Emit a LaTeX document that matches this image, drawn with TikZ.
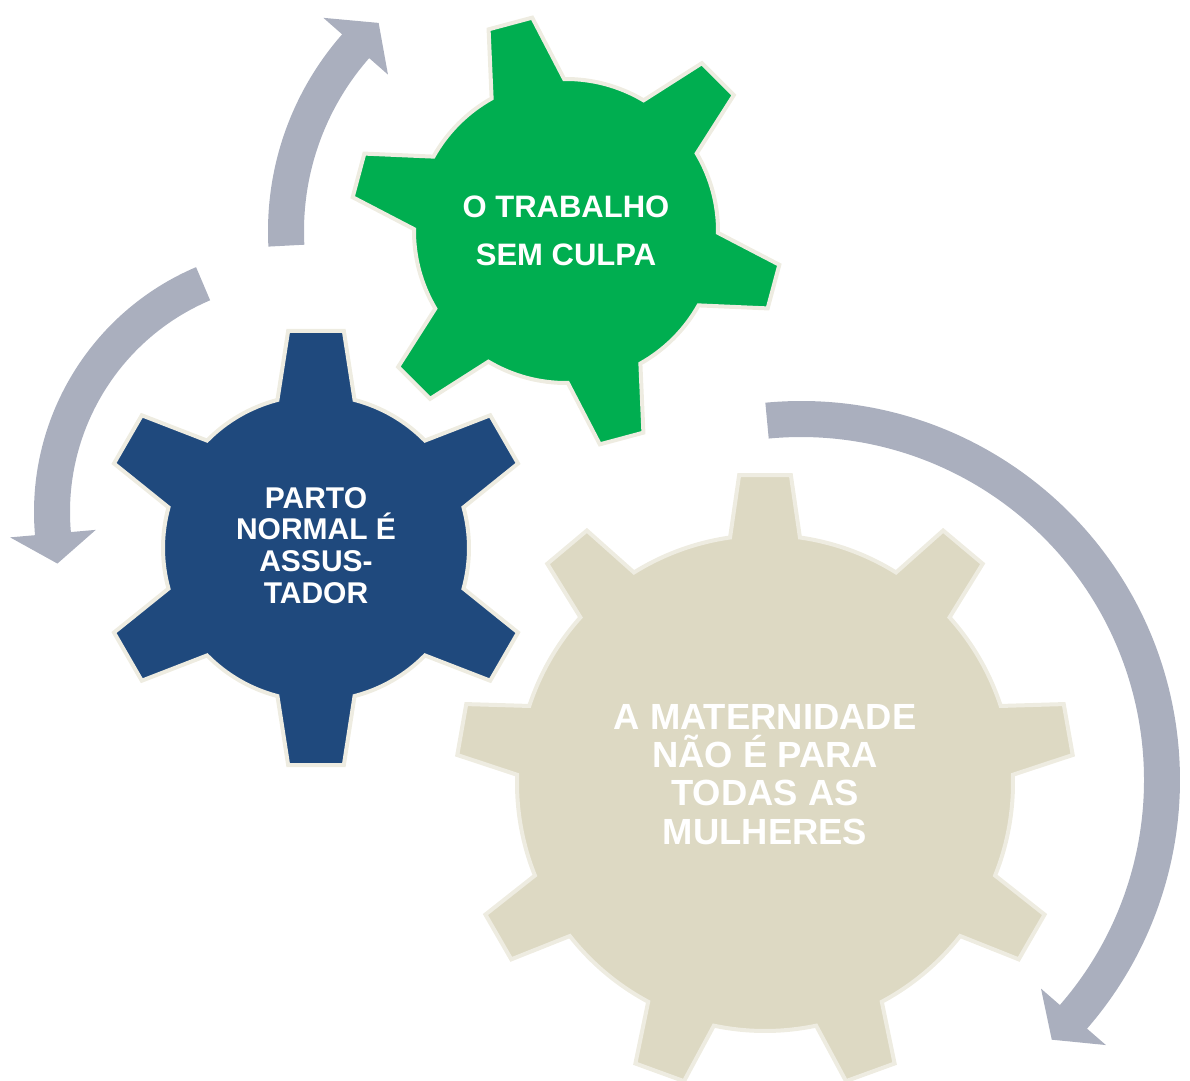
\documentclass[tikz,border=0pt]{standalone}
\usepackage{fontspec}
\setmainfont{Liberation Sans}
\usepackage{tikz}

\definecolor{gearGreen}{HTML}{00AE50}
\definecolor{gearBlue}{HTML}{1F497D}
\definecolor{gearBeige}{HTML}{DDD9C3}
\definecolor{gearRim}{HTML}{EEECE1}
\definecolor{cycleGray}{HTML}{AAAFBE}

% gear: style, centre, teeth, first tooth angle, body radius, tip radius, base half angle, tip half angle
\newcommand{\gear}[8]{%
  \filldraw[#1, shift={(#2)}] (#4-#7:#5)
    \foreach \k [evaluate=\k as \a using #4+(\k-1)*360/#3] in {1,...,#3} {
      -- (\a-#7:#5) -- (\a-#8:#6) -- (\a+#8:#6) -- (\a+#7:#5)
      arc[start angle=\a+#7, end angle=\a+360/#3-#7, radius=#5]
    } -- cycle;}

% curved arrow: centre, radius, tail angle, head angle, tip angle
\newcommand{\cyclearrow}[5]{%
  \fill[cycle arrow, shift={(#1)}] (#3:#2+18)
    arc[start angle=#3, end angle=#4, radius=#2+18]
    -- (#4:#2+43) -- (#5:#2) -- (#4:#2-43) -- (#4:#2-18)
    arc[start angle=#4, end angle=#3, radius=#2-18] -- cycle;}

\begin{document}
\begin{tikzpicture}[
    x=0.5pt, y=0.5pt,
    gear/.style={draw=gearRim, line width=2pt},
    cycle arrow/.style={fill=cycleGray},
    gear text/.style={text=white, align=center, inner sep=0pt}
]
    \useasboundingbox (0,0) rectangle (1190,-1081);

    % Centres
    \coordinate (green) at (566,-231);
    \coordinate (blue) at (316,-548);
    \coordinate (beige) at (765,-783);
    \coordinate (leftturn) at (300,-512);
    \coordinate (bigturn) at (801,-780);

    % Gears
    \gear{gear, fill=gearGreen}{green}{6}{-15}{152}{216}{14.3}{6}
    \gear{gear, fill=gearBlue}{blue}{6}{90}{153}{219}{14.6}{7.3}
    \gear{gear, fill=gearBeige}{beige}{9}{90}{248}{309}{8.1}{4.8}

    % Nodes
    \node[gear text, font=\bfseries\fontsize{15.5}{23.75}\selectfont] (trabalho) at (566,-231)
        {O TRABALHO\\SEM CULPA};
    \node[gear text, font=\bfseries\fontsize{15}{15.85}\selectfont] (parto) at (316,-545.5)
        {PARTO\\NORMAL É\\ASSUS-\\TADOR};
    \node[gear text, font=\bfseries\fontsize{18.2}{19.15}\selectfont] (maternidade) at (765,-774.5)
        {A MATERNIDADE\\NÃO É PARA\\TODAS AS\\MULHERES};

    % Arrows
    \cyclearrow{green}{280}{183}{138.7}{132}
    \cyclearrow{leftturn}{248}{113}{185}{192}
    \cyclearrow{bigturn}{361}{95.4}{-41}{-46}
\end{tikzpicture}
\end{document}
